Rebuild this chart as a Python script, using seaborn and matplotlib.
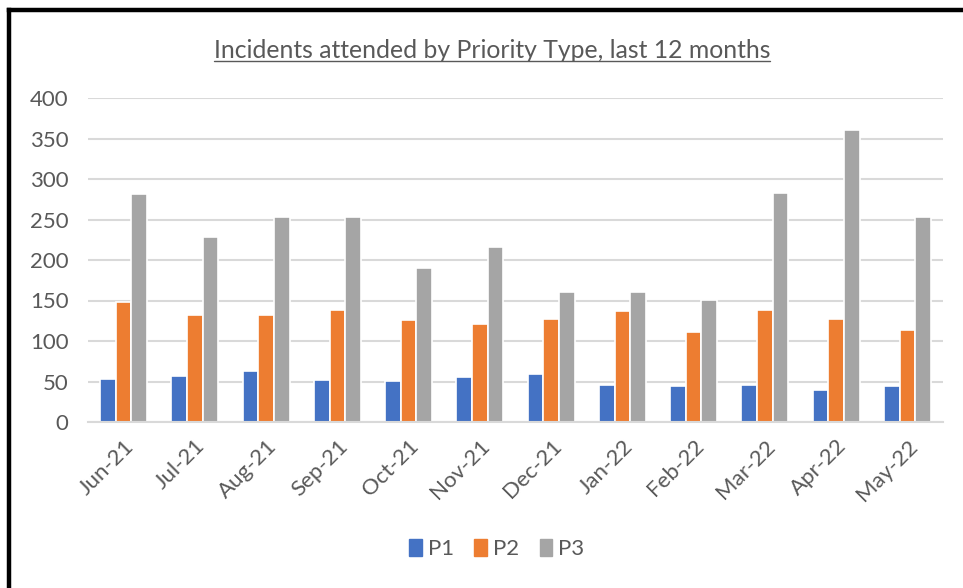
import matplotlib
matplotlib.use("Agg")
import matplotlib.pyplot as plt
import seaborn as sns
import pandas as pd
from matplotlib.patches import Rectangle
from matplotlib.lines import Line2D

months = ["Jun-21", "Jul-21", "Aug-21", "Sep-21", "Oct-21", "Nov-21",
          "Dec-21", "Jan-22", "Feb-22", "Mar-22", "Apr-22", "May-22"]
p1 = [53, 57, 63, 52, 51, 55, 59, 46, 44, 46, 40, 44]
p2 = [148, 132, 132, 138, 126, 121, 127, 137, 111, 138, 127, 113]
p3 = [281, 228, 253, 253, 190, 216, 160, 160, 151, 283, 360, 253]
series_names = ["P1", "P2", "P3"]
colors = ["#4472C4", "#ED7D31", "#A5A5A5"]
title = "Incidents attended by Priority Type, last 12 months"

df = pd.DataFrame({
    "month": months * 3,
    "value": p1 + p2 + p3,
    "series": [s for s in series_names for _ in months],
})

sns.set_theme(style="white")
plt.rcParams["font.family"] = ["Lato", "DejaVu Sans"]
txt = "#595959"

fig = plt.figure(figsize=(9.63, 5.88), dpi=100)
ax = fig.add_axes([88 / 963, 1 - 422 / 588, (943 - 88) / 963, (422 - 98) / 588])

sns.barplot(data=df, x="month", y="value", hue="series", palette=colors,
            saturation=1, width=0.66, edgecolor="white", linewidth=1.2, ax=ax,
            legend=False)

ax.set_ylim(0, 400)
ax.set_xlim(-0.5, len(months) - 0.5)
ax.set_yticks(range(0, 401, 50))
ax.yaxis.grid(True, color="#D9D9D9", linewidth=1.5)
ax.set_axisbelow(True)
for s in ["top", "right", "left"]:
    ax.spines[s].set_visible(False)
ax.spines["bottom"].set_color("#D9D9D9")
ax.spines["bottom"].set_linewidth(1.5)
ax.set_xlabel("")
ax.set_ylabel("")
ax.tick_params(axis="y", length=0, pad=14, labelsize=16, labelcolor=txt)
ax.tick_params(axis="x", which="major", length=0, pad=10, labelsize=16, labelcolor=txt)
ax.set_xticks(range(len(months)))
ax.set_xticklabels(months, rotation=45, ha="right", rotation_mode="anchor")
ax.set_xticks([i - 0.5 for i in range(len(months) + 1)], minor=True)
ax.tick_params(axis="x", which="minor", length=6, width=1.5, color="#D9D9D9", direction="out")

fig.text(492 / 963, 1 - 50 / 588, title, ha="center", va="center",
         fontsize=17.8, color=txt)
t = fig.texts[-1]
fig.canvas.draw()
bb = t.get_window_extent()
fig.add_artist(Line2D([bb.x0 / 963, bb.x1 / 963], [(bb.y0 + 1) / 588] * 2,
                      color=txt, linewidth=1.0, transform=fig.transFigure))

handles = [Rectangle((0, 0), 1, 1, color=c) for c in colors]
fig.legend(handles, series_names, loc="center", bbox_to_anchor=(497 / 963, 1 - 549 / 588),
           ncol=3, frameon=False, fontsize=16, labelcolor=txt, handlelength=0.55,
           handleheight=0.8, handletextpad=0.3, columnspacing=0.9)

# black frame on left and top
fig.add_artist(Line2D([9 / 963, 9 / 963], [0, 1 - 10 / 588], color="black",
                      linewidth=3.2, transform=fig.transFigure, solid_capstyle="projecting"))
fig.add_artist(Line2D([9 / 963, 1], [1 - 10 / 588] * 2, color="black",
                      linewidth=3.2, transform=fig.transFigure, solid_capstyle="projecting"))

fig.savefig("out.png", dpi=100)
